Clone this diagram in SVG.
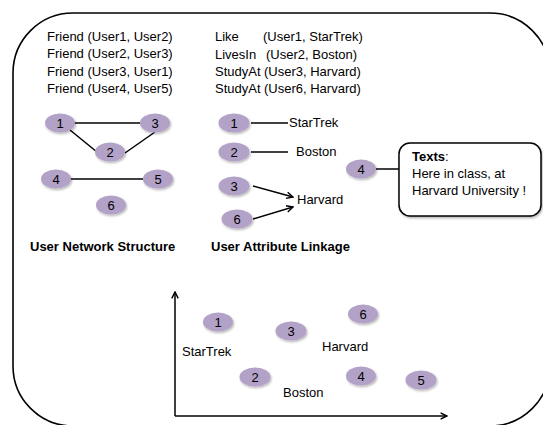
<svg xmlns="http://www.w3.org/2000/svg" width="543" height="425" viewBox="0 0 543 425">
<defs>
<style>
text{font-family:"Liberation Sans",Arial,sans-serif;font-size:13px;fill:#000}
.b{font-weight:bold}
.n ellipse{fill:#b3a2c7;filter:url(#sh)}
.n text{text-anchor:middle}
.ln{stroke:#000;stroke-width:1.5;fill:none}
</style>
<filter id="sh" x="-30%" y="-30%" width="160%" height="170%">
<feDropShadow dx="1" dy="1.5" stdDeviation="1" flood-color="#000" flood-opacity="0.3"/>
</filter>
<marker id="ar" viewBox="0 0 10 10" refX="9" refY="5" markerWidth="8" markerHeight="8" markerUnits="userSpaceOnUse" orient="auto">
<path d="M1,1 L9,5 L1,9" fill="none" stroke="#000" stroke-width="1.8"/>
</marker>
</defs>
<rect x="13" y="13" width="537" height="413" rx="60" fill="none" stroke="#000" stroke-width="1.6"/>

<g id="facts">
<text x="47" y="41">Friend (User1, User2)</text>
<text x="47" y="58">Friend (User2, User3)</text>
<text x="47" y="76">Friend (User3, User1)</text>
<text x="47" y="93">Friend (User4, User5)</text>
<text y="41"><tspan x="215">Like</tspan><tspan x="263">(User1, StarTrek)</tspan></text>
<text y="59"><tspan x="215">LivesIn</tspan><tspan x="266">(User2, Boston)</tspan></text>
<text y="76"><tspan x="215">StudyAt</tspan><tspan x="264">(User3, Harvard)</tspan></text>
<text y="93"><tspan x="215">StudyAt</tspan><tspan x="264">(User6, Harvard)</tspan></text>
</g>

<g id="connectors">
<line class="ln" x1="74" y1="123" x2="140" y2="123"/>
<line class="ln" x1="70" y1="130" x2="97" y2="152"/>
<line class="ln" x1="125" y1="153" x2="155" y2="132"/>
<line class="ln" x1="70" y1="179" x2="143" y2="179"/>
<line class="ln" x1="251" y1="123" x2="288" y2="123"/>
<line class="ln" x1="251" y1="152" x2="288" y2="152"/>
<line class="ln" x1="253" y1="186" x2="293" y2="197" marker-end="url(#ar)"/>
<line class="ln" x1="253" y1="219" x2="293" y2="207" marker-end="url(#ar)"/>
<line class="ln" x1="376" y1="169" x2="399" y2="169"/>
<line class="ln" x1="175" y1="416" x2="175" y2="292" marker-end="url(#ar)"/>
<line class="ln" x1="175" y1="416" x2="447" y2="416" marker-end="url(#ar)"/>
</g>

<g id="net1" class="n"><ellipse cx="60" cy="123" rx="15" ry="9.5"/><text x="60" y="127.5">1</text></g>
<g id="net3" class="n"><ellipse cx="155" cy="123" rx="15" ry="9.5"/><text x="155" y="127.5">3</text></g>
<g id="net2" class="n"><ellipse cx="110" cy="152" rx="15" ry="9.5"/><text x="110" y="156.5">2</text></g>
<g id="net4" class="n"><ellipse cx="56" cy="179" rx="15" ry="9.5"/><text x="56" y="183.5">4</text></g>
<g id="net5" class="n"><ellipse cx="158" cy="179" rx="15" ry="9.5"/><text x="158" y="183.5">5</text></g>
<g id="net6" class="n"><ellipse cx="111" cy="205" rx="15" ry="9.5"/><text x="111" y="209.5">6</text></g>
<text class="b" x="30" y="251" font-size="12.6">User Network Structure</text>

<g id="att1" class="n"><ellipse cx="234" cy="123" rx="15.5" ry="9.5"/><text x="234" y="127.5">1</text></g>
<g id="att2" class="n"><ellipse cx="234" cy="152" rx="15.5" ry="9.5"/><text x="234" y="156.5">2</text></g>
<g id="att3" class="n"><ellipse cx="234" cy="186" rx="15.5" ry="9.5"/><text x="234" y="190.5">3</text></g>
<g id="att6" class="n"><ellipse cx="237" cy="219" rx="15.5" ry="9.5"/><text x="237" y="223.5">6</text></g>
<text x="289" y="127">StarTrek</text>
<text x="296" y="156">Boston</text>
<text x="297" y="204">Harvard</text>
<text class="b" x="211" y="251" font-size="12.6">User Attribute Linkage</text>

<g id="att4" class="n"><ellipse cx="361" cy="169" rx="15" ry="9.5"/><text x="361" y="173.5">4</text></g>
<g id="textbox">
<rect x="399" y="143" width="142" height="73" rx="11" fill="#fff" stroke="#000" stroke-width="1.5" filter="url(#sh)"/>
<text x="412" y="161"><tspan class="b">Texts</tspan>:</text>
<text x="412" y="178">Here in class, at</text>
<text x="412" y="195">Harvard University !</text>
</g>

<g id="p1" class="n"><ellipse cx="218" cy="322" rx="15" ry="9.5"/><text x="218" y="326.5">1</text></g>
<g id="p3" class="n"><ellipse cx="291" cy="331" rx="15.5" ry="9.5"/><text x="291" y="335.5">3</text></g>
<g id="p6" class="n"><ellipse cx="363" cy="314" rx="15" ry="9.5"/><text x="363" y="318.5">6</text></g>
<g id="p2" class="n"><ellipse cx="255" cy="377" rx="15.5" ry="9.5"/><text x="255" y="381.5">2</text></g>
<g id="p4" class="n"><ellipse cx="361" cy="376" rx="15" ry="9.5"/><text x="361" y="380.5">4</text></g>
<g id="p5" class="n"><ellipse cx="421" cy="380" rx="15.5" ry="9.5"/><text x="421" y="384.5">5</text></g>
<text x="182" y="356">StarTrek</text>
<text x="322" y="351">Harvard</text>
<text x="283" y="397">Boston</text>
</svg>
